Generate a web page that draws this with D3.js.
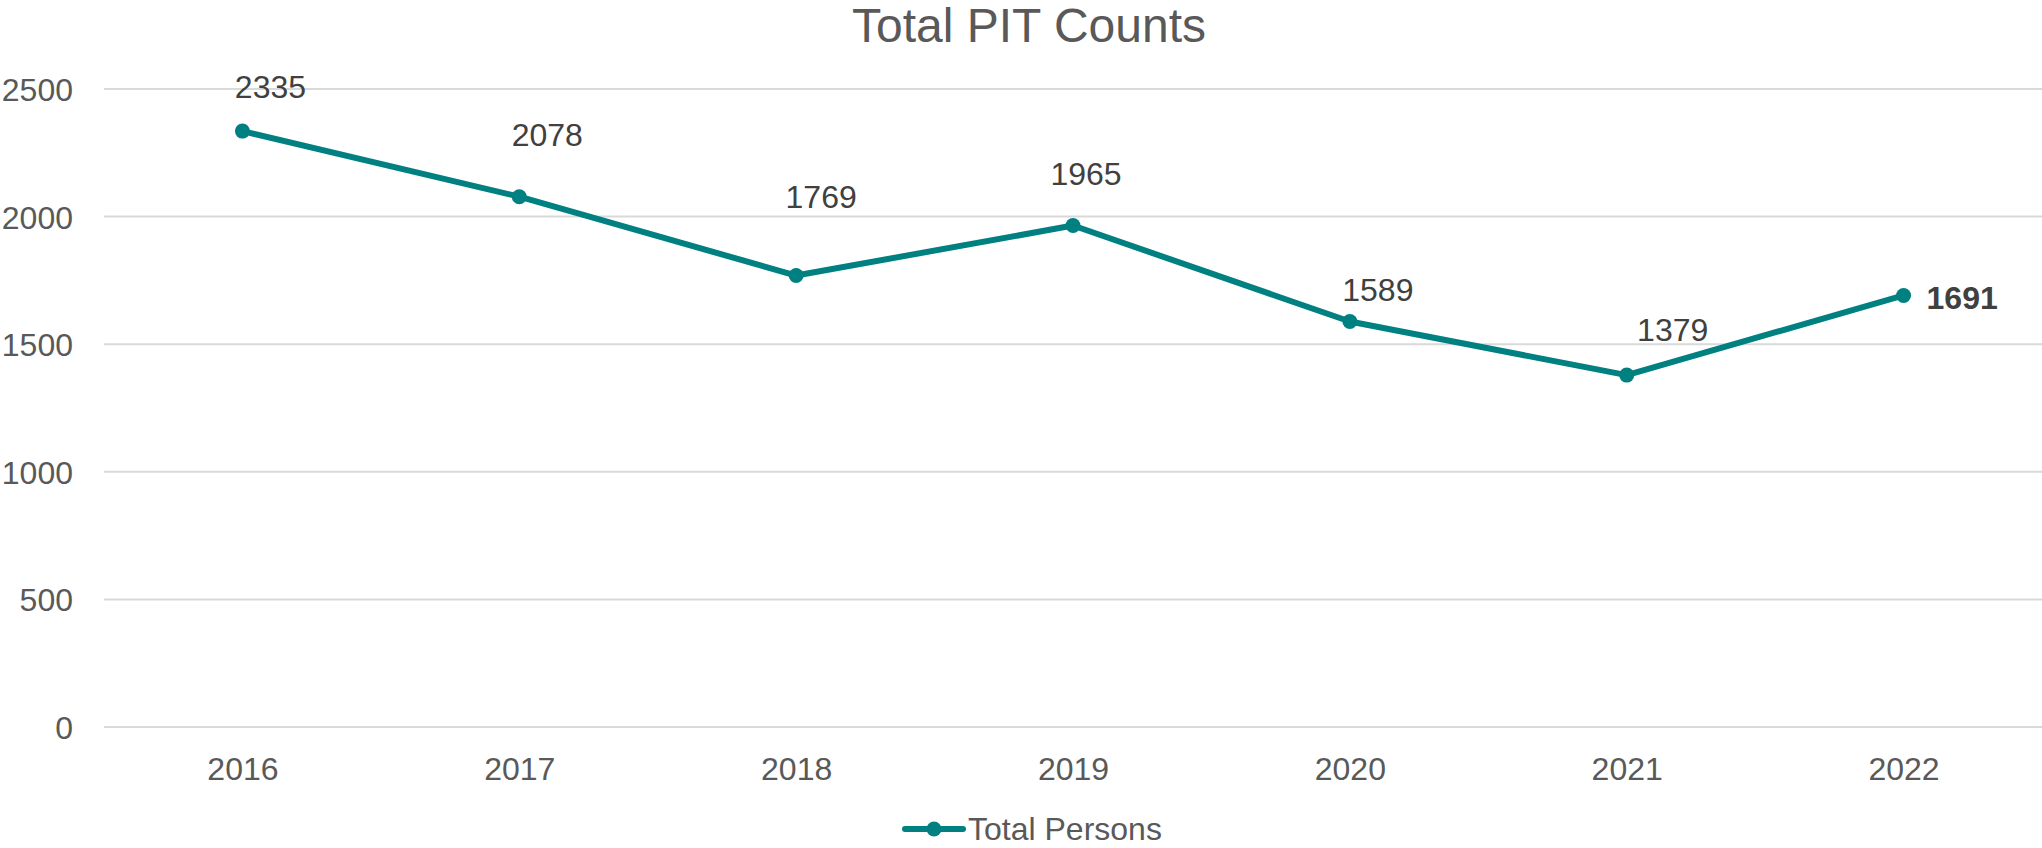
<!DOCTYPE html>
<html>
<head>
<meta charset="utf-8">
<script src="https://cdn.jsdelivr.net/npm/d3@7"></script>
<style>
  html, body { margin: 0; padding: 0; background: #fff; }
  svg { display: block; font-family: "Liberation Sans", Arial, sans-serif; }
</style>
</head>
<body>
<svg id="chart" width="2042" height="848"></svg>
<script>
// chart data
var years = ["2016", "2017", "2018", "2019", "2020", "2021", "2022"];
var totalPersons = [2335, 2078, 1769, 1965, 1589, 1379, 1691];
var yTicks = [0, 500, 1000, 1500, 2000, 2500];
var seriesName = "Total Persons";

// label nudges (the labels were placed by hand in the original)
var labelDx = [28, 28, 25, 13, 28, 46, 23];
var labelDy = [-33, -51, -68, -41, -20, -34, 14];

var svg = d3.select("#chart"),
    width = +svg.attr("width"),
    height = +svg.attr("height");

var x = d3.scalePoint()
    .domain(years)
    .range([104, 2042])
    .padding(0.5);

var y = d3.scaleLinear()
    .domain([0, 2500])
    .range([727, 89]);

var teal = "#008080";

// title
svg.append("text")
    .attr("x", 1029)
    .attr("y", 42)
    .attr("text-anchor", "middle")
    .attr("font-size", 48)
    .attr("fill", "#595959")
    .text("Total PIT Counts");

// gridlines
svg.append("g")
    .selectAll("line")
    .data(yTicks)
    .enter().append("line")
    .attr("x1", 104)
    .attr("x2", width)
    .attr("y1", function (d) { return y(d); })
    .attr("y2", function (d) { return y(d); })
    .attr("stroke", "#d9d9d9")
    .attr("stroke-width", 2);

// y axis labels
var yAxis = svg.append("g")
    .attr("transform", "translate(73,0)")
    .call(d3.axisLeft(y).tickValues(yTicks).tickFormat(d3.format("d")).tickSize(0).tickPadding(0));
yAxis.select(".domain").remove();
yAxis.selectAll("text")
    .attr("font-size", 32)
    .attr("font-family", "Liberation Sans, Arial, sans-serif")
    .attr("fill", "#595959")
    .attr("dy", "0.36em");

// x axis labels
var xAxis = svg.append("g")
    .attr("transform", "translate(0,757)")
    .call(d3.axisBottom(x).tickSize(0).tickPadding(0));
xAxis.select(".domain").remove();
xAxis.selectAll("text")
    .attr("font-size", 32)
    .attr("font-family", "Liberation Sans, Arial, sans-serif")
    .attr("fill", "#595959")
    .attr("dy", "0.71em");

// the line
var line = d3.line()
    .x(function (d, i) { return x(years[i]); })
    .y(function (d) { return y(d); });

svg.append("path")
    .datum(totalPersons)
    .attr("d", line)
    .attr("fill", "none")
    .attr("stroke", teal)
    .attr("stroke-width", 6)
    .attr("stroke-linejoin", "round");

svg.append("g")
    .selectAll("circle")
    .data(totalPersons)
    .enter().append("circle")
    .attr("cx", function (d, i) { return x(years[i]); })
    .attr("cy", function (d) { return y(d); })
    .attr("r", 7.5)
    .attr("fill", teal);

// data labels
var last = totalPersons.length - 1;
svg.append("g")
    .selectAll("text")
    .data(totalPersons)
    .enter().append("text")
    .attr("x", function (d, i) { return x(years[i]) + labelDx[i]; })
    .attr("y", function (d, i) { return y(d) + labelDy[i]; })
    .attr("text-anchor", function (d, i) { return i === last ? "start" : "middle"; })
    .attr("font-size", 32)
    .attr("font-weight", function (d, i) { return i === last ? "bold" : "normal"; })
    .attr("fill", "#404040")
    .text(function (d) { return d; });

// legend
var legend = svg.append("g").attr("transform", "translate(905,829)");
legend.append("line")
    .attr("x1", 0).attr("x2", 58)
    .attr("stroke", teal)
    .attr("stroke-width", 6)
    .attr("stroke-linecap", "round");
legend.append("circle")
    .attr("cx", 29)
    .attr("r", 7.5)
    .attr("fill", teal);
legend.append("text")
    .attr("x", 63)
    .attr("y", 11)
    .attr("font-size", 32)
    .attr("fill", "#595959")
    .text(seriesName);
</script>
</body>
</html>
